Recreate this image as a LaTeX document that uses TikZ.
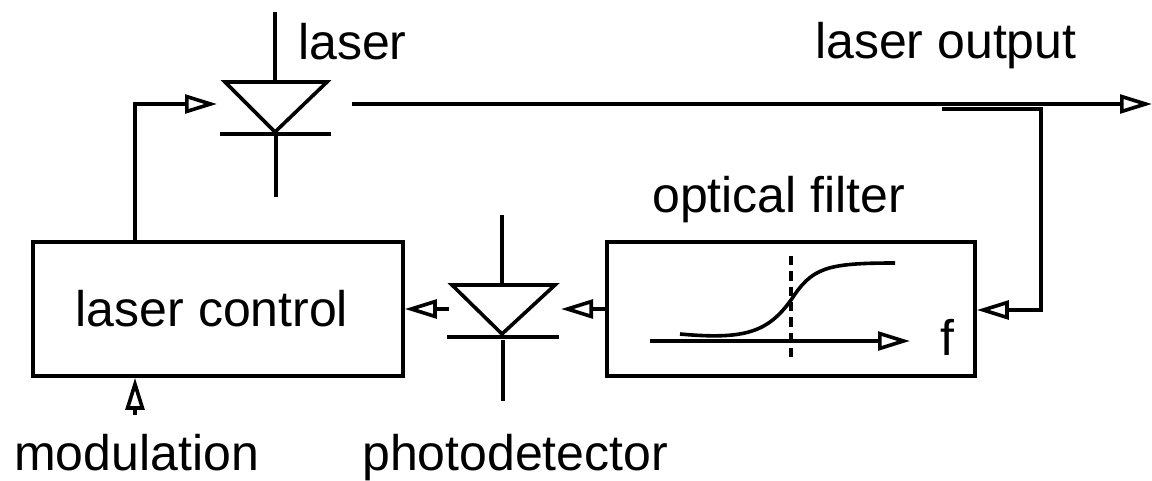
\documentclass[tikz,border=0pt]{standalone}
\usepackage{fontspec}
\setmainfont{Liberation Sans}
\usetikzlibrary{arrows.meta,calc}
\tikzset{
  wire/.style={line width=2.7pt},
  tip/.style={-{Triangle[open,length=24pt,width=14pt,line width=2.7pt]}},
  blockbox/.style={draw,line width=2.7pt,inner sep=0pt,font=\fontsize{37.5}{42}\selectfont},
  caption/.style={anchor=base west,inner sep=0pt,font=\fontsize{37.5}{42}\selectfont}
}

\begin{document}
\begin{tikzpicture}[x=.75pt,y=-.75pt,line join=miter]

      \useasboundingbox (0,0) rectangle (1152,481);

      \path (218,309) node[blockbox,minimum width=277.5pt,minimum height=100.5pt] (control) {\hspace*{-9pt}laser control};
      \path (791,309) node[blockbox,minimum width=276pt,minimum height=100.5pt] (filter) {};

      \path (298,60)  node[caption] (laserlabel)  {laser};
      \path (815,59)  node[caption] (outputlabel) {laser output};
      \path (652,212) node[caption] (filterlabel) {optical filter};
      \path (14,470)  node[caption] (modlabel)    {modulation};
      \path (362,470) node[caption] (pdlabel)     {photodetector};
      \path (940,355) node[caption] (flabel)      {f};

      % laser diode
      \path (275,12)  coordinate (lasertop);
      \path (275,82)  coordinate (laserbase);
      \path (225,82)  coordinate (laserl);
      \path (327,82)  coordinate (laserr);
      \path (275,132) coordinate (laserapex);
      \path (220,134) coordinate (laserbarl);
      \path (331,134) coordinate (laserbarr);
      \path (276,134) coordinate (laserbarm);
      \path (276,197) coordinate (laserbottom);

      \draw[wire] (lasertop) -- (laserbase);
      \draw[wire] (laserl) -- (laserr) -- (laserapex) -- cycle;
      \draw[wire] (laserbarl) -- (laserbarr);
      \draw[wire] (laserbarm) -- (laserbottom);

      % photodetector
      \path (502,215) coordinate (pdtop);
      \path (502,285) coordinate (pdbase);
      \path (452,285) coordinate (pdl);
      \path (555,285) coordinate (pdr);
      \path (502,334) coordinate (pdapex);
      \path (447,337) coordinate (pdbarl);
      \path (559,337) coordinate (pdbarr);
      \path (503,340) coordinate (pdbarm);
      \path (503,401) coordinate (pdbottom);

      \draw[wire] (pdtop) -- (pdbase);
      \draw[wire] (pdl) -- (pdr) -- (pdapex) -- cycle;
      \draw[wire] (pdbarl) -- (pdbarr);
      \draw[wire] (pdbarm) -- (pdbottom);

      % connectors
      \path (135,242)  coordinate (drivefoot);
      \path (135,104)  coordinate (drivecorner);
      \path (217,104)  coordinate (driveend);
      \path (352,104)  coordinate (beamstart);
      \path (1152,104) coordinate (beamend);
      \path (942,109)  coordinate (tapstart);
      \path (1041,109) coordinate (tapcorner);
      \path (1041,310) coordinate (tapfoot);
      \path (449,309)  coordinate (pdout);
      \path (561,309)  coordinate (pdin);
      \path (135,415)  coordinate (modstart);

      \draw[wire,tip] (drivefoot) -- (drivecorner) -- (driveend);
      \draw[wire,tip] (beamstart) -- (beamend);
      \draw[wire,tip] (tapstart) -- (tapcorner) -- (tapfoot) -- (filter.east |- tapfoot);
      \draw[wire,tip] (pdout) -- (control.east |- pdout);
      \draw[wire,tip] (filter.west) -- (pdin);
      \draw[wire,tip] (modstart) -- (control.south -| modstart);

      % filter curve
      \path (650,341) coordinate (axisstart);
      \path (910,341) coordinate (axisend);
      \path (791,256) coordinate (marktop);
      \path (791,360) coordinate (markbottom);
      \path (680,334) coordinate (curvestart);
      \path (791,300) coordinate (curvemid);
      \path (895,263) coordinate (curveend);

      \draw[wire,tip] (axisstart) -- (axisend);
      \draw[wire,dash pattern=on 7pt off 4.5pt] (marktop) -- (markbottom);
      \draw[wire] (curvestart) .. controls (745,340) and (768,332) .. (curvemid)
                  .. controls (812,268) and (825,263) .. (curveend);

    \end{tikzpicture}
\end{document}
